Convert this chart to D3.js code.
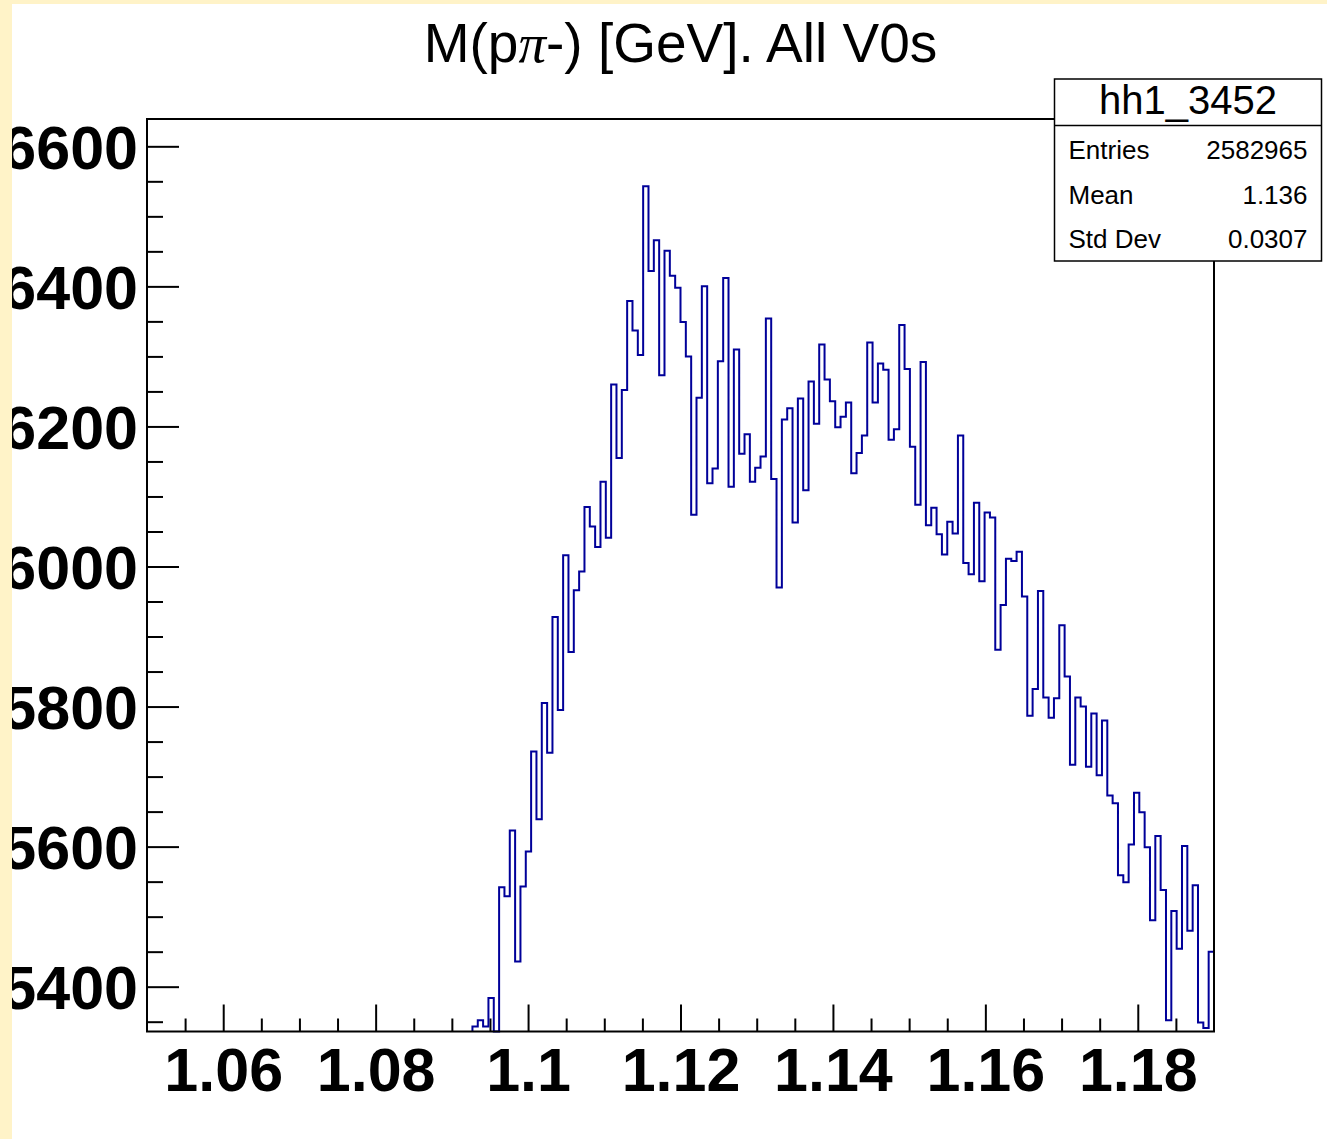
<!DOCTYPE html>
<html>
<head>
<meta charset="utf-8">
<script src="https://cdn.jsdelivr.net/npm/d3@7"></script>
<style>
  body { margin: 0; background: #ffffff; }
  svg { display: block; }
  .axis path { display: none; }
  .axis line { stroke: #000; stroke-width: 2; }
  .axis text { font-family: "Liberation Sans", Arial, sans-serif; font-weight: bold; font-size: 61px; fill: #000; }
</style>
</head>
<body>
<div id="chartDiv"></div>
<script>
//////////
// DATA //
//////////

// histogram hh1_3452, 200 bins from 1.05 to 1.19; bins below 1.0927 sit under the y minimum
const xMin = 1.05;
const xMax = 1.19;
const binWidth = 0.0007;
const firstBinLow = 1.0927;

const counts = [
  15343, 15352, 15343, 15384, 15300, 15542, 15529, 15623, 15436, 15543,
  15593, 15736, 15639, 15805, 15734, 15928, 15795, 16016, 15878, 15966,
  15993, 16085, 16057, 16028, 16121, 16041, 16260, 16155, 16252, 16379,
  16337, 16302, 16543, 16422, 16466, 16273, 16451, 16415, 16398, 16349,
  16300, 16074, 16241, 16400, 16119, 16140, 16293, 16412, 16114, 16310,
  16161, 16189, 16121, 16141, 16157, 16354, 16125, 15970, 16210, 16226,
  16063, 16240, 16109, 16264, 16204, 16317, 16267, 16236, 16199, 16214,
  16234, 16133, 16162, 16187, 16320, 16234, 16290, 16281, 16181, 16196,
  16345, 16282, 16171, 16088, 16292, 16059, 16084, 16046, 16017, 16064,
  16047, 16187, 16005, 15989, 16091, 15979, 16077, 16070, 15881, 15945,
  16011, 16008, 16021, 15957, 15787, 15825, 15965, 15813, 15784, 15812,
  15916, 15843, 15717, 15813, 15800, 15714, 15790, 15702, 15780, 15673,
  15662, 15559, 15549, 15603, 15677, 15649, 15599, 15495, 15615, 15538,
  15352, 15508, 15454, 15601, 15480, 15545, 15349, 15341, 15450
];

const yMin = 15336;
const yMax = 16639;

const xTickValues = [1.06, 1.08, 1.1, 1.12, 1.14, 1.16, 1.18];
const xTickLabels = ["1.06", "1.08", "1.1", "1.12", "1.14", "1.16", "1.18"];
const yTickValues = [15400, 15600, 15800, 16000, 16200, 16400, 16600];
const yTickLabels = ["15400", "15600", "15800", "16000", "16200", "16400", "16600"];

const titleParts = ["M(p", "\u03c0", "-) [GeV]. All V0s"];
const statsName = "hh1_3452";
const statsRows = [["Entries", "2582965"], ["Mean", "1.136"], ["Std Dev", "0.0307"]];

////////////
// LAYOUT //
////////////

const width = 1327, height = 1139;
const frame = { left: 147, right: 1214, top: 119, bottom: 1031.5 };

const svg = d3.select("#chartDiv").append("svg")
  .attr("width", width)
  .attr("height", height);

svg.append("rect")
  .attr("width", width).attr("height", height)
  .attr("fill", "#ffffff");

//////////
// AXES //
//////////

const x = d3.scaleLinear().domain([xMin, xMax]).range([frame.left, frame.right]);
const y = d3.scaleLinear().domain([yMin, yMax]).range([frame.bottom, frame.top]).clamp(true);

// minor ticks every 0.005 / 50, drawn inward like ROOT
const xMinor = d3.range(1.055, xMax, 0.005).filter(v => !xTickValues.some(t => Math.abs(t - v) < 1e-6));
const yMinor = d3.range(15350, yMax, 50).filter(v => v % 200 !== 0);

svg.append("g")
  .attr("class", "axis")
  .attr("transform", "translate(0," + frame.bottom + ")")
  .call(d3.axisBottom(x).tickValues(xMinor).tickSize(-13).tickFormat(""));

svg.append("g")
  .attr("class", "axis")
  .attr("transform", "translate(" + frame.left + ",0)")
  .call(d3.axisLeft(y).tickValues(yMinor).tickSize(-16).tickFormat(""));

const xAxis = svg.append("g")
  .attr("class", "axis")
  .attr("transform", "translate(0," + frame.bottom + ")")
  .call(d3.axisBottom(x).tickValues(xTickValues).tickSize(-27)
    .tickFormat((d, i) => xTickLabels[i]));
xAxis.selectAll("text").attr("y", 59).attr("dy", null);

const yAxis = svg.append("g")
  .attr("class", "axis")
  .attr("transform", "translate(" + frame.left + ",0)")
  .call(d3.axisLeft(y).tickValues(yTickValues).tickSize(-32)
    .tickFormat((d, i) => yTickLabels[i]));
yAxis.selectAll("text").attr("x", -9).attr("dy", "0.36em");

///////////////
// HISTOGRAM //
///////////////

let pts = [[x(firstBinLow), frame.bottom]];
counts.forEach((c, i) => {
  const lo = firstBinLow + i * binWidth;
  pts.push([x(lo), y(c)]);
  pts.push([x(lo + binWidth), y(c)]);
});

svg.append("path")
  .attr("d", d3.line()(pts))
  .attr("fill", "none")
  .attr("stroke", "#000099")
  .attr("stroke-width", 2);

// frame on top
svg.append("rect")
  .attr("x", frame.left).attr("y", frame.top)
  .attr("width", frame.right - frame.left)
  .attr("height", frame.bottom - frame.top)
  .attr("fill", "none")
  .attr("stroke", "#000")
  .attr("stroke-width", 2);

///////////
// TITLE //
///////////

const title = svg.append("text")
  .attr("x", (frame.left + frame.right) / 2)
  .attr("y", 62)
  .attr("text-anchor", "middle")
  .style("font-family", "Liberation Sans, Arial, sans-serif")
  .style("font-size", "55px");
title.append("tspan").text(titleParts[0]);
// the pi is a TLatex symbol, serif italic
title.append("tspan")
  .style("font-family", "Liberation Serif, Times New Roman, serif")
  .style("font-style", "italic")
  .text(titleParts[1]);
title.append("tspan").text(titleParts[2]);

///////////
// STATS //
///////////

const box = { x: 1054.5, y: 79, w: 267, h: 182, split: 125.5 };
svg.append("rect")
  .attr("x", box.x).attr("y", box.y)
  .attr("width", box.w).attr("height", box.h)
  .attr("fill", "#ffffff")
  .attr("stroke", "#000")
  .attr("stroke-width", 1.5);

svg.append("line")
  .attr("x1", box.x).attr("x2", box.x + box.w)
  .attr("y1", box.split).attr("y2", box.split)
  .attr("stroke", "#000")
  .attr("stroke-width", 1.5);

svg.append("text")
  .attr("x", box.x + box.w / 2)
  .attr("y", 114)
  .attr("text-anchor", "middle")
  .style("font-family", "Liberation Sans, Arial, sans-serif")
  .style("font-size", "40px")
  .text(statsName);

statsRows.forEach((r, i) => {
  const yy = 159 + i * 44.5;
  svg.append("text")
    .attr("x", box.x + 14).attr("y", yy)
    .style("font-family", "Liberation Sans, Arial, sans-serif")
    .style("font-size", "26px")
    .text(r[0]);
  svg.append("text")
    .attr("x", box.x + box.w - 14).attr("y", yy)
    .attr("text-anchor", "end")
    .style("font-family", "Liberation Sans, Arial, sans-serif")
    .style("font-size", "26px")
    .text(r[1]);
});

// canvas border strips (drawn last, they hide the clipped label digits)
svg.append("rect").attr("x", 0).attr("y", 0).attr("width", width).attr("height", 4).attr("fill", "#fff3c8");
svg.append("rect").attr("x", 0).attr("y", 0).attr("width", 12).attr("height", height).attr("fill", "#fff3c8");
</script>
</body>
</html>
